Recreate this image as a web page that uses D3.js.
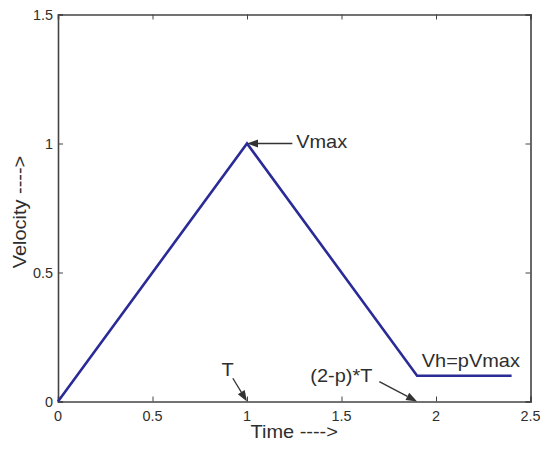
<!DOCTYPE html>
<html>
<head>
<meta charset="utf-8">
<script src="https://cdn.jsdelivr.net/npm/d3@7/dist/d3.min.js"></script>
<style>
  html, body { margin: 0; padding: 0; background: #fff; }
  text { font-family: "Liberation Sans", Arial, Helvetica, sans-serif; fill: #2e2e2e; }
</style>
</head>
<body>
<svg id="chart" width="540" height="451"></svg>
<script>
// Trapezoid-like velocity profile: ramp up, ramp down, hold at pVmax
const timePts = [0, 1, 1.9, 2.4];
const velocityPts = [0, 1, 0.1, 0.1];

const xTicks = [0, 0.5, 1, 1.5, 2, 2.5];
const yTicks = [0, 0.5, 1, 1.5];
const xTickLabels = ["0", "0.5", "1", "1.5", "2", "2.5"];
const yTickLabels = ["0", "0.5", "1", "1.5"];

// Annotations: label, arrow tip (data units), tail (data units), text anchor point (data units)
const annLabels = ["Vmax", "T", "(2-p)*T"];
const annTipT = [1, 1, 1.9];
const annTipV = [1, 0, 0];
const annTailT = [1.24, 0.925, 1.7];
const annTailV = [1, 0.09, 0.077];
const annTextT = [1.26, 0.865, 1.335];
const annTextV = [0.982, 0.1, 0.077];
const plainLabel = "Vh=pVmax";
const plainLabelT = [1.925];
const plainLabelV = [0.133];

const svg = d3.select("#chart");
const margin = { left: 58, right: 9.5, top: 14.5, bottom: 49.5 };
const W = 540, H = 451;
const x = d3.scaleLinear().domain([0, 2.5]).range([margin.left, W - margin.right]);
const y = d3.scaleLinear().domain([0, 1.5]).range([H - margin.bottom, margin.top]);

const axisColor = "#444";
const stretch = 1.05;
const labelSize = 19;

// horizontally widened text helper
function label(g, str, px, py, size, anchor, sx, rot) {
  const t = g.append("g")
    .attr("transform", `translate(${px},${py})` + (rot ? ` rotate(${rot})` : "") + ` scale(${sx},1)`);
  t.append("text").attr("text-anchor", anchor).style("font-size", size + "px").text(str);
}

// axes with inward ticks on all four sides
const gx = svg.append("g").attr("transform", `translate(0,${y(0)})`)
  .call(d3.axisBottom(x).tickValues(xTicks).tickSize(-5).tickFormat(""));
const gxt = svg.append("g").attr("transform", `translate(0,${y(1.5)})`)
  .call(d3.axisTop(x).tickValues(xTicks).tickSize(-5).tickFormat(""));
const gy = svg.append("g").attr("transform", `translate(${x(0)},0)`)
  .call(d3.axisLeft(y).tickValues(yTicks).tickSize(-5).tickFormat(""));
const gyr = svg.append("g").attr("transform", `translate(${x(2.5)},0)`)
  .call(d3.axisRight(y).tickValues(yTicks).tickSize(-5).tickFormat(""));
[gx, gxt, gy, gyr].forEach(g => {
  g.selectAll("path.domain").attr("stroke", axisColor).attr("stroke-width", 1.6);
  g.selectAll(".tick line").attr("stroke", axisColor).attr("stroke-width", 1);
});

// tick labels
const tl = svg.append("g");
xTicks.forEach((v, i) => label(tl, xTickLabels[i], x(v), y(0) + 19.5, 14, "middle", 1.03));
yTicks.forEach((v, i) => label(tl, yTickLabels[i], x(0) - 5, y(v) + 5, 14, "end", 1.03));

// axis titles
label(svg, "Time ---->", (x(0) + x(2.5)) / 2, 437.5, labelSize, "middle", stretch);
label(svg, "Velocity ---->", 25.5, (y(0) + y(1.5)) / 2 + 4, labelSize, "middle", stretch, -90);

// profile line
const line = d3.line().x((d, i) => x(timePts[i])).y((d, i) => y(velocityPts[i]));
svg.append("path").datum(timePts)
  .attr("d", line)
  .attr("fill", "none")
  .attr("stroke", "#2b2b98")
  .attr("stroke-width", 2.6)
  .attr("stroke-linejoin", "miter");

// annotation arrows
const ag = svg.append("g");
annLabels.forEach((s, i) => {
  const x1 = x(annTailT[i]), y1 = y(annTailV[i]);
  const x2 = x(annTipT[i]), y2 = y(annTipV[i]);
  const ang = Math.atan2(y2 - y1, x2 - x1);
  const hl = 11, hw = 4;
  const bx = x2 - hl * Math.cos(ang), by = y2 - hl * Math.sin(ang);
  ag.append("line")
    .attr("x1", x1).attr("y1", y1).attr("x2", bx).attr("y2", by)
    .attr("stroke", "#333").attr("stroke-width", 1.3);
  const px = -Math.sin(ang) * hw, py = Math.cos(ang) * hw;
  ag.append("path")
    .attr("d", `M${x2},${y2}L${bx + px},${by + py}L${bx - px},${by - py}Z`)
    .attr("fill", "#333");
  label(ag, s, x(annTextT[i]), y(annTextV[i]), labelSize, "start", stretch);
});
label(ag, plainLabel, x(plainLabelT[0]), y(plainLabelV[0]), labelSize, "start", stretch);
</script>
</body>
</html>
